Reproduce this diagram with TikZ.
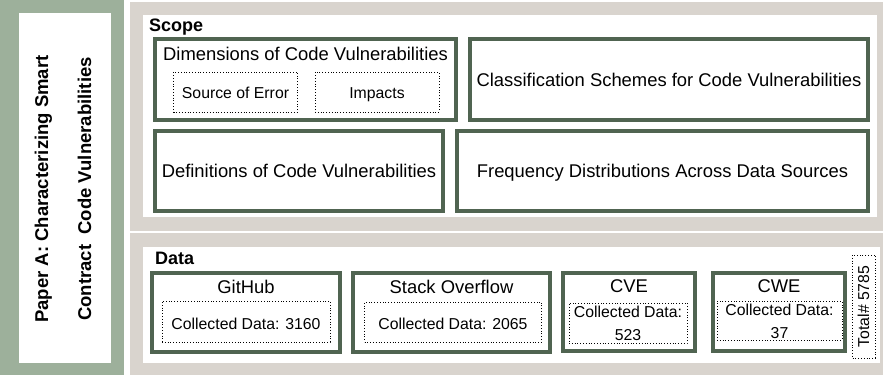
\documentclass[tikz,border=0pt]{standalone}
\usepackage{fontspec}
\setmainfont{Liberation Sans}
\usepackage{xcolor}
\usetikzlibrary{positioning}
\definecolor{paperGreen}{RGB}{157,176,155}
\definecolor{panelGray}{RGB}{217,212,206}
\definecolor{boxGreen}{RGB}{80,100,81}

\begin{document}
\begin{tikzpicture}[
  x=1pt, y=-1pt,
  bigbox/.style={draw=boxGreen,line width=4pt,fill=white,inner sep=0pt},
  subbox/.style={draw,dotted,line width=0.8pt,inner sep=0pt},
  label/.style={inner sep=0pt,text height=13.2pt,text depth=0pt,font=\fontsize{18.4}{22}\selectfont},
  small/.style={inner sep=0pt,text height=11.3pt,text depth=0pt,font=\fontsize{15.8}{23}\selectfont},
  twoline/.style={inner sep=0pt,align=center,font=\fontsize{15.8}{23}\selectfont},
  head/.style={inner sep=0pt,anchor=west,text height=13pt,text depth=0pt,font=\bfseries\fontsize{18}{22}\selectfont},
  side/.style={rotate=90,anchor=base,inner sep=0pt,font=\bfseries\fontsize{18.5}{22}\selectfont}
]
\useasboundingbox (0,0) rectangle (883,375);
\fill[white] (0,0) rectangle (883,375);
% left panel
\fill[paperGreen] (0,0) rectangle (124,375);
\fill[white] (19,13) rectangle (111,363);
\node[side] (paper) at (48,189) {Paper A: Characterizing Smart};
\node[side] (paper2) at (91,189) {Contract\ \ Code Vulnerabilities};
% scope panel
\fill[panelGray] (130,2) rectangle (883,231);
\fill[white] (143,15) rectangle (877,217);
\node[head] (scope) at (149,25) {Scope};
\node[bigbox,minimum width=301,minimum height=81] (dims) at (305.5,79.5) {};
\node[label] (dimstitle) at (305.5,53.5) {Dimensions of Code Vulnerabilities};
\node[subbox,minimum width=124,minimum height=40] (source) at (235.5,92) {};
\node[small] at (235.5,92.5) {Source of Error};
\node[subbox,minimum width=124,minimum height=40] (impacts) at (377,92) {};
\node[small] at (377,92.5) {Impacts};
\node[bigbox,minimum width=398,minimum height=81] (classes) at (669,79.5) {};
\node[label] at (classes.center) {Classification Schemes for Code Vulnerabilities};
\node[bigbox,minimum width=288,minimum height=80] (defs) at (299,171) {};
\node[label] at (defs.center) {Definitions of Code Vulnerabilities};
\node[bigbox,minimum width=411,minimum height=80] (freq) at (662.5,171) {};
\node[label] at (freq.center) {Frequency Distributions Across Data Sources};
% data panel
\fill[panelGray] (130,233) rectangle (883,375);
\fill[white] (143,247) rectangle (880,363);
\node[head] (data) at (155,258) {Data};
\node[bigbox,minimum width=188,minimum height=79] (github) at (246,312.5) {};
\node[label] (githubtitle) at (246,286.5) {GitHub};
\node[subbox,minimum width=168,minimum height=41] (githubdata) at (246,321.5) {};
\node[small] at (246,324) {Collected Data: 3160};
\node[bigbox,minimum width=197,minimum height=79] (stack) at (451.5,312.5) {};
\node[label] (stacktitle) at (451.5,286.5) {Stack Overflow};
\node[subbox,minimum width=177,minimum height=40] (stackdata) at (453,322) {};
\node[small] at (453,324) {Collected Data: 2065};
\node[bigbox,minimum width=132,minimum height=78] (cve) at (629,312) {};
\node[label] (cvetitle) at (629,286) {CVE};
\node[subbox,minimum width=118,minimum height=40] (cvedata) at (628,323) {};
\node[twoline] at (628,323.5) {Collected Data:\\523};
\node[bigbox,minimum width=132,minimum height=78] (cwe) at (779,312) {};
\node[label] (cwetitle) at (779,286) {CWE};
\node[subbox,minimum width=125,minimum height=39] (cwedata) at (779.5,320.5) {};
\node[twoline] at (779.5,321) {Collected Data:\\37};
\node[subbox,minimum width=103,minimum height=23,rotate=90] (total) at (863.5,306.5) {};
\node[small,rotate=90] at (total.center) {Total\# 5785};
\end{tikzpicture}
\end{document}
